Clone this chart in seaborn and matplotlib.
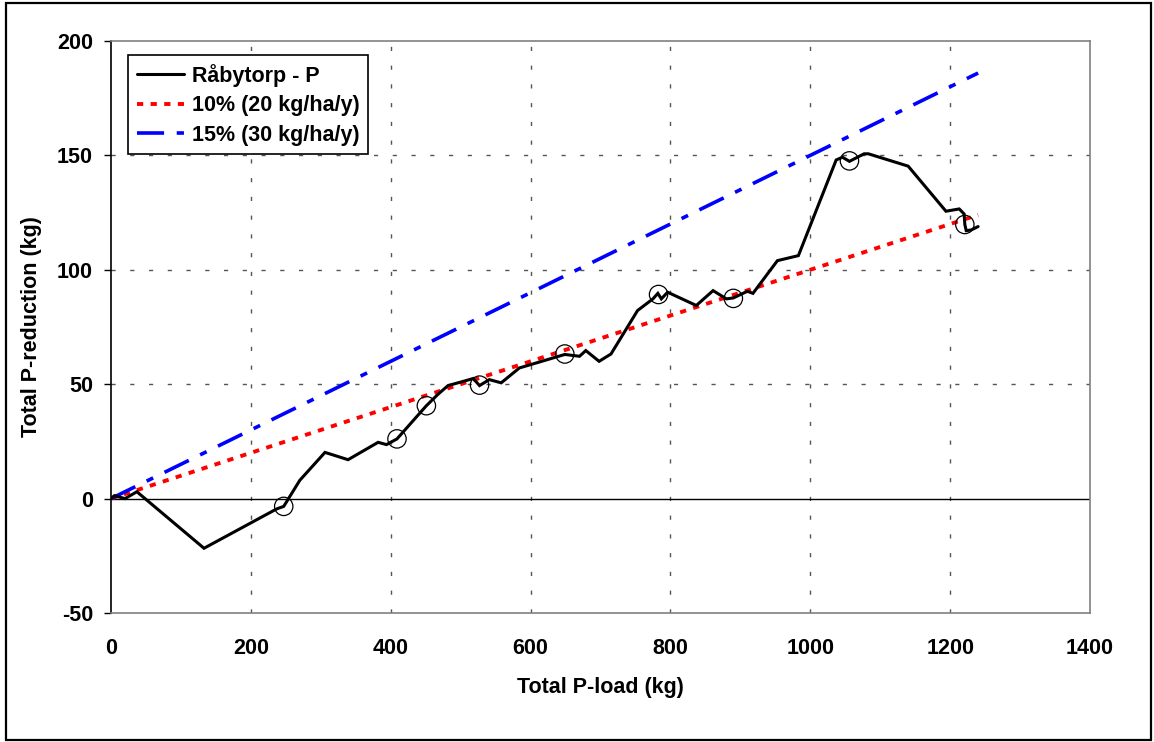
import matplotlib
matplotlib.use("Agg")
import matplotlib.pyplot as plt
import seaborn as sns
import pandas as pd
from matplotlib.patches import Rectangle

# ---- data ----
load_kg = [0, 5, 20, 37, 133, 237, 247, 270, 306, 339, 382, 394, 409, 451, 468,
           482, 508, 518, 527, 541, 558, 584, 649, 670, 679, 698, 715, 753, 775,
           782, 787, 796, 837, 861, 880, 890, 910, 918, 953, 983, 1037, 1046,
           1056, 1077, 1083, 1140, 1194, 1213, 1220, 1221, 1223, 1230, 1240]
reduction_kg = [0, 1.3, 0, 3, -21.7, -4.5, -3.4, 8, 20.2, 17, 24.6, 23.6, 26.1,
                40.6, 45.7, 49.4, 51.6, 52.5, 49.4, 52, 50.6, 57.1, 63, 62.2,
                64.7, 60, 63.2, 82.2, 87.3, 89.7, 87.3, 90.2, 84.4, 90.9, 87.3,
                87.7, 90.6, 89.7, 104, 106.2, 148, 149.2, 147.4, 150.7, 150.7,
                145.3, 125.6, 126.6, 124.4, 119.8, 117.1, 117.4, 118.9]

circle_x = [247, 409, 451, 527, 649, 783, 890, 1056, 1221]
circle_y = [-3.4, 26.1, 40.6, 49.6, 63.2, 89.2, 87.5, 147.6, 119.8]

ref_x = [0, 1240]
ref10_y = [0, 124]
ref15_y = [0, 186]

labels = ["Råbytorp - P", "10% (20 kg/ha/y)", "15% (30 kg/ha/y)"]
x_ticks = [0, 200, 400, 600, 800, 1000, 1200, 1400]
y_ticks = [-50, 0, 50, 100, 150, 200]

# ---- style ----
sns.set_style("white")
plt.rcParams["font.family"] = ["Liberation Sans", "DejaVu Sans"]
plt.rcParams["font.weight"] = "bold"
plt.rcParams["axes.unicode_minus"] = False
plt.rcParams["text.color"] = "black"
plt.rcParams["axes.labelcolor"] = "black"
plt.rcParams["xtick.color"] = "black"
plt.rcParams["ytick.color"] = "black"

W, H = 1154, 742
fig = plt.figure(figsize=(W / 100, H / 100), dpi=100)
ax = fig.add_axes([111 / W, 1 - 613 / H, (1090 - 111) / W, (613 - 41) / H])

# outer frame
fig.patches.append(Rectangle((6 / W, 2 / H), (1151 - 6) / W, (739 - 2) / H,
                             transform=fig.transFigure, fill=False,
                             edgecolor="black", linewidth=1.6, zorder=0))

# grid
for gx in x_ticks[1:-1]:
    ax.axvline(gx, color="#555555", linewidth=1.0, dashes=(3, 10.5), zorder=1)
for gy in [50, 100, 150]:
    ax.axhline(gy, color="#555555", linewidth=1.0, dashes=(3, 10.5), zorder=1)
ax.axhline(0, color="black", linewidth=1.0, zorder=2)

df_main = pd.DataFrame({"x": load_kg, "y": reduction_kg})
df_ref = pd.DataFrame({"x": ref_x, "y10": ref10_y, "y15": ref15_y})

sns.lineplot(data=df_ref, x="x", y="y10", ax=ax, color="#FF0000", linewidth=2.8,
             label=labels[1], zorder=3)
ax.lines[-1].set_dashes((1.6, 1.9))
sns.lineplot(data=df_ref, x="x", y="y15", ax=ax, color="#0000FF", linewidth=2.6,
             label=labels[2], zorder=3)
ax.lines[-1].set_dashes((7.5, 3.5, 2, 3.5))
sns.lineplot(data=df_main, x="x", y="y", ax=ax, color="black", linewidth=2.2,
             sort=False, estimator=None, label=labels[0], zorder=4)
ax.lines[-1].set_solid_joinstyle("miter")

sns.scatterplot(x=circle_x, y=circle_y, ax=ax, marker="o", s=175,
                facecolors="none", edgecolor="black", linewidth=0.9,
                legend=False, zorder=5)

ax.set_xlim(0, 1400)
ax.set_ylim(-50, 200)
ax.set_xticks(x_ticks)
ax.set_yticks(y_ticks)
ax.tick_params(axis="x", length=0, pad=18, labelsize=15.5)
ax.tick_params(axis="y", length=5, width=1, color="black", direction="out",
               pad=8, labelsize=15.5, left=True)
for lab in ax.get_xticklabels() + ax.get_yticklabels():
    lab.set_fontweight("bold")

for side in ["top", "right", "bottom"]:
    ax.spines[side].set_color("#808080")
    ax.spines[side].set_linewidth(1.2)
ax.spines["left"].set_color("black")
ax.spines["left"].set_linewidth(1.2)

ax.set_xlabel("Total P-load (kg)", fontsize=15.5, fontweight="bold", labelpad=13)
ax.set_ylabel("Total P-reduction (kg)", fontsize=15.5, fontweight="bold", labelpad=11)

handles, lbls = ax.get_legend_handles_labels()
order = [lbls.index(l) for l in labels]
leg = ax.legend([handles[i] for i in order], [lbls[i] for i in order],
                loc="upper left", bbox_to_anchor=(0.0174, 0.9755),
                borderaxespad=0, fancybox=False, framealpha=1,
                edgecolor="black", handlelength=2.2,
                labelspacing=0.4, borderpad=0.4, handletextpad=0.35,
                prop={"weight": "bold", "size": 15.5})
leg.get_frame().set_linewidth(1.2)

fig.savefig("out.png", dpi=100)
